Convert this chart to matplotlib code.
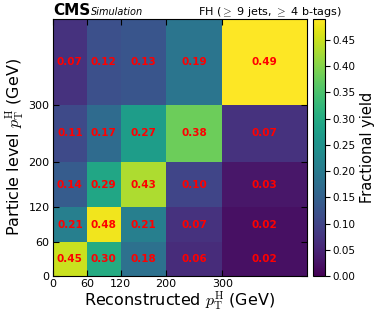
import numpy as np
import matplotlib
matplotlib.use("Agg")
import matplotlib.pyplot as plt

# bin edges (GeV)
edges = [0, 60, 120, 200, 300, 450]
tick_vals = [0, 60, 120, 200, 300]

# fractional yield, rows = particle level bins (bottom to top), cols = reco bins
row_0_60 = [0.45, 0.30, 0.18, 0.06, 0.02]
row_60_120 = [0.21, 0.48, 0.21, 0.07, 0.02]
row_120_200 = [0.14, 0.29, 0.43, 0.10, 0.03]
row_200_300 = [0.11, 0.17, 0.27, 0.38, 0.07]
row_300_inf = [0.07, 0.12, 0.13, 0.19, 0.49]

matrix = np.array([row_0_60, row_60_120, row_120_200, row_200_300, row_300_inf])

plt.rcParams['mathtext.fontset'] = 'cm'
plt.rcParams['font.family'] = 'DejaVu Sans'

fig = plt.figure(figsize=(3.74, 3.14), dpi=100)
ax = fig.add_axes([53/374, 1 - 276/314, 254/374, 257/314])
cax = fig.add_axes([313/374, 1 - 276/314, 12/374, 257/314])

mesh = ax.pcolormesh(edges, edges, matrix, cmap='viridis', vmin=0, vmax=matrix.max())

centers = [(edges[i] + edges[i+1]) / 2 for i in range(len(edges) - 1)]
for i, yc in enumerate(centers):
    for j, xc in enumerate(centers):
        ax.text(xc, yc, "%.2f" % matrix[i, j], color='red', fontweight='bold',
                ha='center', va='center', fontsize=7.5)

ax.set_xticks(tick_vals)
ax.set_yticks(tick_vals)
ax.tick_params(direction='in', top=True, right=True, labelsize=8, length=4, pad=2.5)
ax.set_xlim(0, 450)
ax.set_ylim(0, 450)
ax.set_xlabel(r"Reconstructed $p_{\mathrm{T}}^{\mathrm{H}}$ (GeV)", fontsize=11.5, labelpad=0)
ax.set_ylabel(r"Particle level $p_{\mathrm{T}}^{\mathrm{H}}$ (GeV)", fontsize=11.5, labelpad=2)

ax.text(0, 1.015, "CMS", transform=ax.transAxes, fontsize=11, fontweight='bold',
        ha='left', va='baseline')
ax.text(0.15, 1.015, "Simulation", transform=ax.transAxes, fontsize=7, style='italic',
        ha='left', va='baseline')
ax.text(0.571, 1.015, r"FH ($\geq$ 9 jets, $\geq$ 4 b-tags)", transform=ax.transAxes,
        fontsize=8, ha='left', va='baseline')

cb = fig.colorbar(mesh, cax=cax)
cb.set_ticks(np.arange(0, 0.46, 0.05))
cb.ax.tick_params(labelsize=7.5, pad=2)
cb.set_label("Fractional yield", fontsize=10.5, labelpad=3)

fig.savefig("out.png", dpi=100)
